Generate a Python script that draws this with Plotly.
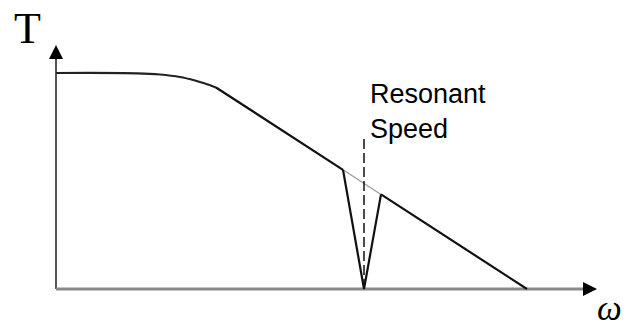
import plotly.graph_objects as go

# Schematic torque-speed curve (arbitrary units)
flat_w = [0.0, 8.1, 10.4, 12.4, 13.9, 14.9, 16.0]
flat_T = [21.6, 21.57, 21.45, 21.2, 20.85, 20.55, 20.15]

slope_w = [16.0, 28.7]
slope_T = [20.15, 11.92]

gap_w = [28.7, 32.5]
gap_T = [11.92, 9.46]

tail_w = [32.5, 47.1]
tail_T = [9.46, 0.0]

notch_w = [28.7, 30.8, 32.5]
notch_T = [11.92, 0.0, 9.46]

resonant_w = 30.8
resonant_top = 15.1

axis_w_end = 54.1
axis_T_end = 24.4

fig = go.Figure()

# axes
fig.add_trace(go.Scatter(x=[0, 0], y=[0, axis_T_end - 0.8], mode="lines",
                         line=dict(color="#555555", width=2), hoverinfo="skip"))
fig.add_trace(go.Scatter(x=[0, axis_w_end - 0.8], y=[0, 0], mode="lines",
                         line=dict(color="#8a8a8a", width=3), hoverinfo="skip"))
fig.add_trace(go.Scatter(x=[0], y=[axis_T_end], mode="markers",
                         marker=dict(symbol="arrow-up", size=14, color="black", line=dict(width=0)),
                         hoverinfo="skip"))
fig.add_trace(go.Scatter(x=[axis_w_end], y=[0], mode="markers",
                         marker=dict(symbol="arrow-right", size=14, color="black", line=dict(width=0)),
                         hoverinfo="skip"))

# curve
fig.add_trace(go.Scatter(x=flat_w, y=flat_T, mode="lines", line_shape="spline",
                         line=dict(color="#222222", width=2.2), hoverinfo="skip"))
fig.add_trace(go.Scatter(x=slope_w, y=slope_T, mode="lines",
                         line=dict(color="#111111", width=2.2), hoverinfo="skip"))
fig.add_trace(go.Scatter(x=gap_w, y=gap_T, mode="lines",
                         line=dict(color="#9a9a9a", width=1.2), hoverinfo="skip"))
fig.add_trace(go.Scatter(x=tail_w, y=tail_T, mode="lines",
                         line=dict(color="#111111", width=2.2), hoverinfo="skip"))
fig.add_trace(go.Scatter(x=notch_w, y=notch_T, mode="lines",
                         line=dict(color="#111111", width=2.2), hoverinfo="skip"))
fig.add_trace(go.Scatter(x=[resonant_w, resonant_w], y=[0, resonant_top], mode="lines",
                         line=dict(color="#111111", width=1.5, dash="10px,4px"), hoverinfo="skip"))

fig.add_annotation(x=-2.9, y=26.1, text="T", showarrow=False, xanchor="center", yanchor="middle",
                   font=dict(family="Liberation Serif", size=44, color="black"))
fig.add_annotation(x=55.3, y=-1.9, text="<i>ω</i>", showarrow=False, xanchor="center", yanchor="middle",
                   font=dict(family="Liberation Serif", size=35, color="black"))
fig.add_annotation(x=31.2, y=21.2, text="Resonant<br>Speed", showarrow=False, xanchor="left",
                   yanchor="top", align="left",
                   font=dict(family="Liberation Sans", size=27, color="black"))

fig.update_layout(
    width=628, height=327, margin=dict(l=0, r=0, t=0, b=0),
    paper_bgcolor="white", plot_bgcolor="white", showlegend=False,
    xaxis=dict(range=[-5.6, 57.2], visible=False, fixedrange=True),
    yaxis=dict(range=[-3.8, 28.9], visible=False, fixedrange=True),
)

fig.write_html("out.html", config={"displayModeBar": False},
               post_script="document.body.style.margin='0';document.body.style.overflow='hidden';")
